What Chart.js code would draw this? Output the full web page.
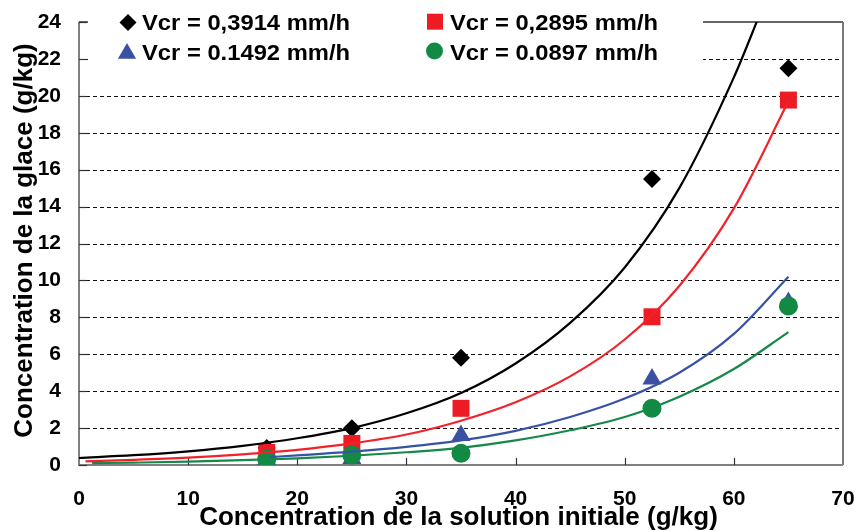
<!DOCTYPE html>
<html><head><meta charset="utf-8">
<script src="https://cdn.jsdelivr.net/npm/chart.js@4.4.1/dist/chart.umd.min.js"></script>
<style>html,body{margin:0;padding:0;background:#fff;}#wrap{position:relative;width:857px;height:531px;}canvas{display:block;}</style>
</head><body><div id="wrap"><canvas id="c" width="857" height="531"></canvas></div>
<script>
// ---- data ----
const xMeasured = [17.2, 25, 35, 52.5, 65];
const yBlack = [0.92, 1.99, 5.81, 15.5, 21.5];
const yRed   = [0.68, 1.17, 3.07, 8.03, 19.77];
const yBlue  = [0.30, 0.35, 1.60, 4.66, 8.8];
const yGreen = [0.32, 0.54, 0.63, 3.07, 8.61];

const trendBlackX = [0, 5, 10, 15, 20, 25, 30, 35, 40, 45, 50, 55, 60, 62.5];
const trendBlackY = [0.38, 0.53, 0.74, 1.04, 1.45, 2.0, 2.8, 3.9, 5.5, 7.7, 10.7, 15.0, 21.0, 24.6];
const trendRedX = [0.6, 5, 10, 15, 20, 25, 30, 35, 40, 45, 50, 55, 60, 65];
const trendRedY = [0.2, 0.28, 0.40, 0.58, 0.82, 1.17, 1.65, 2.4, 3.4, 4.8, 6.8, 9.7, 13.9, 19.7];
const trendBlueX = [17.5, 20, 25, 30, 35, 40, 45, 50, 55, 60, 65];
const trendBlueY = [0.43, 0.52, 0.72, 0.98, 1.33, 1.85, 2.6, 3.6, 5.0, 7.1, 10.2];
const trendGreenX = [1.2, 5, 10, 15, 20, 25, 30, 35, 40, 45, 50, 55, 60, 65];
const trendGreenY = [0.1, 0.13, 0.18, 0.26, 0.36, 0.5, 0.69, 0.93, 1.33, 1.88, 2.6, 3.7, 5.2, 7.2];

const seriesLabels = ['Vcr = 0,3914 mm/h', 'Vcr = 0,2895 mm/h', 'Vcr = 0.1492 mm/h', 'Vcr = 0.0897 mm/h'];
const xTicks = [0, 10, 20, 30, 40, 50, 60, 70];
const yTicks = [0, 2, 4, 6, 8, 10, 12, 14, 16, 18, 20, 22, 24];
const xTitle = 'Concentration de la solution initiale (g/kg)';
const yTitle = 'Concentration de la glace (g/kg)';

// ---- styles ----
const COL = {black:'#000000', red:'#ED1C24', blue:'#3A51A3', green:'#138A43'};
const LINECOL = {black:'#000000', red:'#F2222B', blue:'#3653A6', green:'#16894A'};
const FONT = '"Liberation Sans", Arial, sans-serif';

const pts = (xs, ys) => xs.map((x, i) => ({x, y: ys[i]}));

function lineDs(xs, ys, color, order){
  return {data: pts(xs, ys), showLine: true, borderColor: color, borderWidth: 2.2,
    pointRadius: 0, pointHoverRadius: 0, cubicInterpolationMode: 'monotone', fill: false, order};
}
function markDs(ys, color, style, r, order){
  return {data: pts(xMeasured, ys), showLine: false, pointStyle: style, pointRadius: r,
    pointBackgroundColor: color, pointBorderColor: color, pointBorderWidth: 0, order};
}

function drawMarker(ctx, style, cx, cy, r, color){
  ctx.fillStyle = color;
  ctx.beginPath();
  if (style === 'rectRot'){
    ctx.moveTo(cx, cy - r); ctx.lineTo(cx + r, cy); ctx.lineTo(cx, cy + r); ctx.lineTo(cx - r, cy);
  } else if (style === 'rect'){
    ctx.rect(cx - r, cy - r, 2*r, 2*r);
  } else if (style === 'triangle'){
    ctx.moveTo(cx, cy - r); ctx.lineTo(cx + r*0.866, cy + r*0.5); ctx.lineTo(cx - r*0.866, cy + r*0.5);
  } else {
    ctx.arc(cx, cy, r, 0, Math.PI*2);
  }
  ctx.closePath(); ctx.fill();
}

function stretchedText(ctx, text, x, y, sx){
  ctx.save(); ctx.translate(x, y); ctx.scale(sx, 1); ctx.fillText(text, 0, 0); ctx.restore();
}

const frame = {
  id: 'frame',
  beforeDatasetsDraw(chart){
    const {ctx, chartArea: a, scales: {x, y}} = chart;
    ctx.save();
    ctx.strokeStyle = '#111'; ctx.lineWidth = 1; ctx.setLineDash([4, 3]);
    yTicks.forEach(v => {
      if (v === yTicks[0] || v === yTicks[yTicks.length-1]) return;
      const py = Math.round(y.getPixelForValue(v)) + 0.5;
      ctx.beginPath(); ctx.moveTo(a.left, py); ctx.lineTo(a.right, py); ctx.stroke();
    });
    ctx.setLineDash([]);
    ctx.strokeStyle = '#333'; ctx.lineWidth = 1.5;
    ctx.beginPath(); ctx.moveTo(a.left, a.top); ctx.lineTo(a.right, a.top); ctx.stroke();
    ctx.strokeStyle = '#7a7a7a'; ctx.lineWidth = 2;
    ctx.beginPath(); ctx.moveTo(a.right, a.top); ctx.lineTo(a.right, a.bottom); ctx.stroke();
    // legend white box
    ctx.fillStyle = '#fff';
    ctx.fillRect(a.left + 9, 5, 703 - (a.left + 9), 72);
    // axes
    ctx.strokeStyle = '#808080'; ctx.lineWidth = 2;
    ctx.beginPath(); ctx.moveTo(a.left, a.top); ctx.lineTo(a.left, a.bottom); ctx.lineTo(a.right, a.bottom); ctx.stroke();
    // tick marks (inside)
    ctx.strokeStyle = '#333'; ctx.lineWidth = 1.2;
    yTicks.forEach(v => {
      const py = Math.round(y.getPixelForValue(v)) + 0.5;
      ctx.beginPath(); ctx.moveTo(a.left, py); ctx.lineTo(a.left + 8, py); ctx.stroke();
    });
    xTicks.forEach(v => {
      if (v === xTicks[0] || v === xTicks[xTicks.length-1]) return;
      const px = Math.round(x.getPixelForValue(v)) + 0.5;
      ctx.beginPath(); ctx.moveTo(px, a.bottom); ctx.lineTo(px, a.bottom - 7); ctx.stroke();
    });
    ctx.restore();
  },
  afterDraw(chart){
    const {ctx} = chart;
    ctx.save();
    const styles = ['rectRot', 'rect', 'triangle', 'circle'];
    const cols = [COL.black, COL.red, COL.blue, COL.green];
    const mx = [128, 435, 127, 434.5];
    const my = [22.5, 21.7, 53.5, 51];
    const mr = [8.5, 8, 10.5, 8.5];
    const tx = [142, 450, 142, 450];
    const ty = [29.5, 29.5, 60, 60];
    ctx.font = 'bold 22px ' + FONT;
    ctx.textAlign = 'left'; ctx.textBaseline = 'alphabetic';
    for (let i = 0; i < 4; i++){
      drawMarker(ctx, styles[i], mx[i], my[i], mr[i], cols[i]);
      ctx.fillStyle = '#000';
      stretchedText(ctx, seriesLabels[i], tx[i], ty[i], 1.08);
    }
    ctx.font = 'bold 26px ' + FONT;
    ctx.fillStyle = '#000';
    ctx.textAlign = 'center';
    ctx.fillText(xTitle, 458.5, 525);
    ctx.translate(32, 240.5);
    ctx.rotate(-Math.PI/2);
    ctx.fillText(yTitle, 0, 0);
    ctx.restore();
  }
};

const tickFont = {family: FONT, size: 21, weight: 'bold'};
const zeroPad = s => { s.paddingLeft = 0; s.paddingRight = 0; s.paddingTop = 0; s.paddingBottom = 0; };

new Chart(document.getElementById('c'), {
  type: 'scatter',
  data: {
    datasets: [
      lineDs(trendBlackX, trendBlackY, LINECOL.black, 0),
      lineDs(trendRedX, trendRedY, LINECOL.red, 1),
      lineDs(trendBlueX, trendBlueY, LINECOL.blue, 2),
      lineDs(trendGreenX, trendGreenY, LINECOL.green, 3),
      markDs(yGreen, COL.green, 'circle', 9.5, 4),
      markDs(yBlue, COL.blue, 'triangle', 11, 5),
      markDs(yRed, COL.red, 'rect', 12, 6),
      markDs(yBlack, COL.black, 'rectRot', 9, 7)
    ]
  },
  options: {
    responsive: false, animation: false, devicePixelRatio: 1,
    layout: {autoPadding: false, padding: {left: 0, right: 14, top: 22, bottom: 0}},
    plugins: {legend: {display: false}, tooltip: {enabled: false}},
    scales: {
      x: {type: 'linear', min: 0, max: 70,
        afterBuildTicks: s => { s.ticks = xTicks.map(v => ({value: v})); },
        afterFit: s => { s.height = 66; zeroPad(s); },
        grid: {display: false, drawTicks: false}, border: {display: false},
        ticks: {font: tickFont, color: '#000', padding: 22, maxRotation: 0}},
      y: {type: 'linear', min: 0, max: 24,
        afterBuildTicks: s => { s.ticks = yTicks.map(v => ({value: v})); },
        afterFit: s => { s.width = 79; zeroPad(s); },
        grid: {display: false, drawTicks: false}, border: {display: false},
        ticks: {font: tickFont, color: '#000', padding: 18}}
    }
  },
  plugins: [frame]
});
</script></body></html>
